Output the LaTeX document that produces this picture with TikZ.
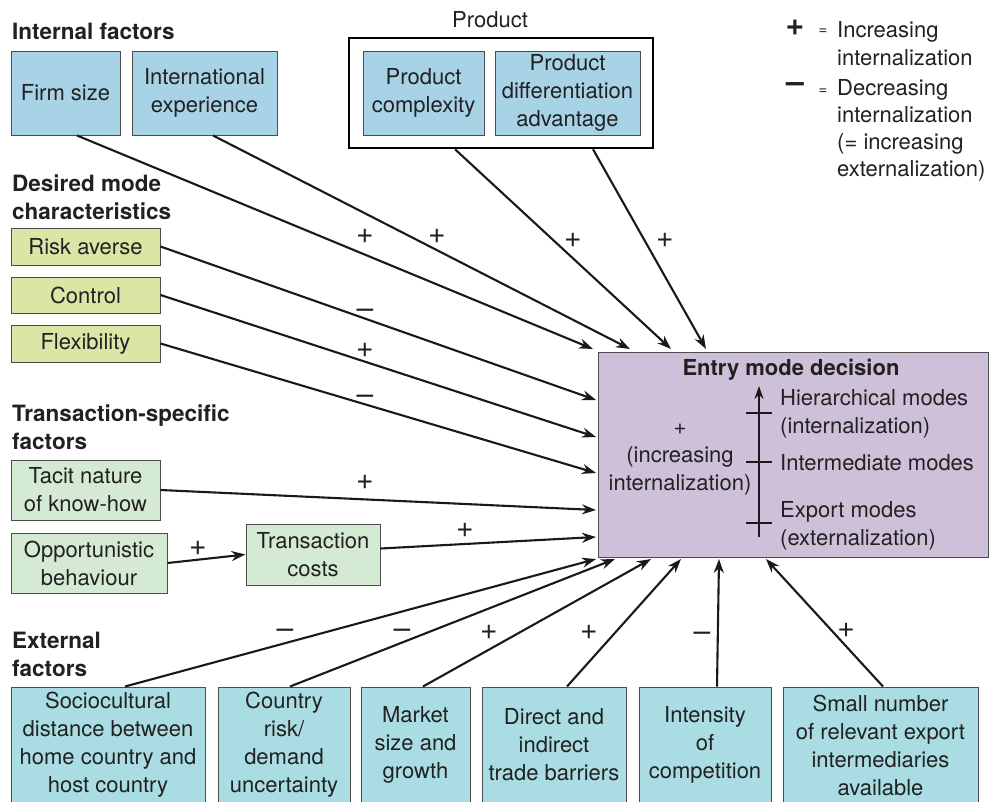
\documentclass[tikz,border=0pt]{standalone}
\usepackage{fontspec}
\setmainfont{TeX Gyre Heros}
\usepackage{tikz}
\usetikzlibrary{arrows.meta, calc}
\definecolor{IntBlue}{RGB}{168,210,230}
\definecolor{DesGreen}{RGB}{219,230,166}
\definecolor{TsGreen}{RGB}{213,234,211}
\definecolor{ExtTeal}{RGB}{170,221,227}
\definecolor{DecLilac}{RGB}{206,192,217}
\tikzset{
    every node/.style={font=\fontsize{22}{28}\selectfont, text=black!87},
    fac/.style={rectangle, draw=black!70, line width=1pt, align=center, inner sep=0pt},
    intf/.style={fac, fill=IntBlue, minimum height=84pt},
    desf/.style={fac, fill=DesGreen, minimum width=149pt},
    tsf/.style={fac, fill=TsGreen},
    extf/.style={fac, fill=ExtTeal, minimum height=116pt},
    dec/.style={fac, fill=DecLilac},
    head/.style={font=\fontsize{22.5}{28}\selectfont\bfseries, align=left, anchor=west, inner sep=0pt},
    note/.style={align=left, anchor=west, inner sep=0pt},
    link/.style={-{Stealth[length=14pt,width=10pt]}, line width=2.1pt, black!90},
    sgn/.style={font=\fontsize{30}{30}\selectfont, inner sep=0pt}
}

\begin{document}
\begin{tikzpicture}[x=1pt,y=-1pt]
    \useasboundingbox (0,0) rectangle (990,801);
    % group headings
    \node[head] (hint) at (12,31) {Internal factors};
    \node[head] (hdes) at (12,197) {Desired mode\\characteristics};
    \node[head] (htsf) at (12,427) {Transaction-specific\\factors};
    \node[head] (hext) at (12,654) {External\\factors};
    % internal factors and product
    \node[intf, minimum width=109pt] (fsize) at (65.5,93) {Firm size};
    \node[intf, minimum width=145pt] (intexp) at (204.5,93) {International\\experience};
    \node[draw=black, line width=2.5pt, minimum width=304pt, minimum height=110pt] (prod) at (501,93) {};
    \node (prodlab) at (490,20) {Product};
    \node[intf, minimum width=121pt] (pcx) at (423.5,93) {Product\\complexity};
    \node[intf, minimum width=145pt] (pdiff) at (567.5,93) {Product\\differentiation\\advantage};
    % legend
    \node[sgn, font=\fontsize{32}{32}\selectfont\bfseries] (lgp) at (795,28) {+};
    \node[font=\fontsize{15}{15}\selectfont] (lgq1) at (823,32) {=};
    \node[note] (lgt1) at (837,43.5) {Increasing\\internalization};
    \node[sgn, font=\fontsize{32}{32}\selectfont\bfseries] (lgm) at (795,88) {\textendash};
    \node[font=\fontsize{15}{15}\selectfont] (lgq2) at (823,92) {=};
    \node[note, font=\fontsize{22}{27}\selectfont] (lgt2) at (837,130) {Decreasing\\internalization\\(= increasing\\externalization)};
    % desired mode characteristics
    \node[desf, minimum height=37pt] (risk) at (85.5,246.5) {Risk averse};
    \node[desf, minimum height=36pt] (ctrl) at (85.5,295) {Control};
    \node[desf, minimum height=37pt] (flex) at (85.5,343.5) {Flexibility};
    % transaction-specific factors
    \node[tsf, minimum width=149pt, minimum height=60pt] (tacit) at (85.5,490) {Tacit nature\\of know-how};
    \node[tsf, minimum width=156pt, minimum height=60pt] (opp) at (89,563) {Opportunistic\\behaviour};
    \node[tsf, minimum width=134pt, minimum height=61pt] (tcost) at (313,554.5) {Transaction\\costs};
    % entry mode decision
    \node[dec, minimum width=390pt, minimum height=205pt] (emd) at (793,454.5) {};
    \node[font=\fontsize{22}{28}\selectfont\bfseries] (emdt) at (791,370) {Entry mode decision};
    \node[align=center] (emdl) at (680,460) {+\\(increasing\\internalization)};
    \draw[-{Stealth[length=13pt,width=9pt]}, line width=2.1pt, black!90] (759,537) -- (759,386);
    \foreach \y in {413,462,523}
        \draw[line width=2.1pt, black!90] (746,\y) -- (772,\y);
    \node[note] (hier) at (780,413.5) {Hierarchical modes\\(internalization)};
    \node[note] (inter) at (780,463) {Intermediate modes};
    \node[note] (expm) at (780,525.5) {Export modes\\(externalization)};
    % external factors
    \node[extf, minimum width=194pt] (soc) at (108,745) {Sociocultural\\distance between\\home country and\\host country};
    \node[extf, minimum width=132pt] (crisk) at (284,745) {Country\\risk/\\demand\\uncertainty};
    \node[extf, minimum width=109pt] (mkt) at (415.5,745) {Market\\size and\\growth};
    \node[extf, minimum width=144pt] (trade) at (554,745) {Direct and\\indirect\\trade barriers};
    \node[extf, minimum width=132pt] (comp) at (705,745) {Intensity\\of\\competition};
    \node[extf, minimum width=195pt] (small) at (880.5,745) {Small number\\of relevant export\\intermediaries\\available};
    % arrow ends on the decision box
    \coordinate (t1) at (593,349);
    \coordinate (t2) at (630,349);
    \coordinate (t3) at (671,349);
    \coordinate (t4) at (706,349);
    \coordinate (l1) at (596,400);
    \coordinate (l2) at (596,437);
    \coordinate (l3) at (596,473);
    \coordinate (l4) at (596,510);
    \coordinate (l5) at (596,537);
    \coordinate (b1) at (596,559);
    \coordinate (b2) at (615,559);
    \coordinate (b3) at (651,559);
    \coordinate (b4) at (681,559);
    \coordinate (b5) at (719,559);
    \coordinate (b6) at (766,559);
    % connectors
    \draw[link] ([xshift=11.5pt]fsize.south) -- (t1);
    \draw[link] ([xshift=8.5pt]intexp.south) -- (t2);
    \draw[link] ([xshift=-46pt]prod.south) -- (t3);
    \draw[link] ([xshift=92pt]prod.south) -- (t4);
    \draw[link] (risk.east) -- (l1);
    \draw[link] (ctrl.east) -- (l2);
    \draw[link] (flex.east) -- (l3);
    \draw[link] (tacit.east) -- (l4);
    \draw[link] ([yshift=6pt]tcost.east) -- (l5);
    \draw[link] (opp.east) -- (tcost.west);
    \draw[link] ([xshift=17pt]soc.north) -- (b1);
    \draw[link] ([xshift=6pt]crisk.north) -- (b2);
    \draw[link] ([xshift=7.5pt]mkt.north) -- (b3);
    \draw[link] ([xshift=13pt]trade.north) -- (b4);
    \draw[link] ([xshift=12pt]comp.north) -- (b5);
    \draw[link] ([xshift=2.5pt]small.north) -- (b6);
    % signs
    \node[sgn] (s1) at (365,236) {+};
    \node[sgn] (s2) at (437,236) {+};
    \node[sgn] (s3) at (573,240) {+};
    \node[sgn] (s4) at (665,240) {+};
    \node[sgn] (s5) at (365,314) {\textendash};
    \node[sgn] (s6) at (365,350) {+};
    \node[sgn] (s7) at (365,400) {\textendash};
    \node[sgn] (s8) at (365,482) {+};
    \node[sgn] (s9) at (465,530) {+};
    \node[sgn] (s10) at (198,548) {+};
    \node[sgn] (s11) at (285,634) {\textendash};
    \node[sgn] (s12) at (402,634) {\textendash};
    \node[sgn] (s13) at (489,632) {+};
    \node[sgn] (s14) at (589,632) {+};
    \node[sgn] (s15) at (702,637) {\textendash};
    \node[sgn] (s16) at (846,630) {+};
\end{tikzpicture}
\end{document}
